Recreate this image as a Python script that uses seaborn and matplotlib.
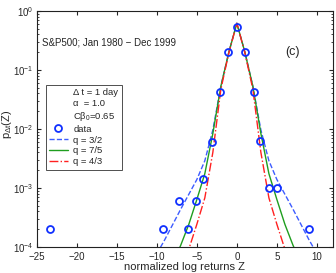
import numpy as np
import seaborn as sns
import matplotlib.pyplot as plt
from matplotlib.lines import Line2D

# data points (normalized log return Z, probability)
data_z = [-23.3, -9.2, -7.17, -6.13, -5.09, -4.17, -3.1, -2.08, -1.05, 0.0,
          1.0, 2.08, 2.9, 3.96, 5.0, 8.96]
data_p = [2e-4, 2e-4, 6e-4, 2e-4, 6e-4, 1.4e-3, 5.9e-3, 0.043, 0.2, 0.53,
          0.2, 0.043, 6.2e-3, 1e-3, 1e-3, 2e-4]

# fitted curves, sampled at integer Z
z_q32 = list(range(-10, 11))
p_q32 = [7.6e-5, 1.32e-4, 2.40e-4, 4.37e-4, 7.76e-4, 1.38e-3, 2.88e-3, 9.55e-3,
         5.25e-2, 0.200, 0.617, 0.200, 5.25e-2, 9.55e-3, 2.88e-3, 1.38e-3,
         7.76e-4, 4.37e-4, 2.40e-4, 1.32e-4, 7.6e-5]

z_q75 = list(range(-8, 9))
p_q75 = [5.2e-5, 1.07e-4, 2.40e-4, 6.31e-4, 1.74e-3, 8.32e-3, 5.25e-2, 0.200,
         0.617, 0.200, 5.25e-2, 8.32e-3, 1.74e-3, 6.31e-4, 2.40e-4, 1.07e-4,
         5.2e-5]

z_q43 = list(range(-7, 8))
p_q43 = [4.0e-5, 9.1e-5, 2.40e-4, 6.76e-4, 3.98e-3, 4.68e-2, 0.195, 0.617,
         0.195, 4.68e-2, 3.98e-3, 6.76e-4, 2.40e-4, 9.1e-5, 4.0e-5]

sns.set_style("ticks")
plt.rcParams["font.family"] = ["Liberation Sans", "DejaVu Sans"]
plt.rcParams["mathtext.fontset"] = "custom"
plt.rcParams["mathtext.rm"] = "Liberation Sans"
plt.rcParams["mathtext.it"] = "Liberation Sans"

fig = plt.figure(figsize=(3.36, 2.73), dpi=100)
ax = fig.add_axes([0.109, 0.096, 0.882, 0.864])

sns.lineplot(x=z_q32, y=p_q32, ax=ax, color="#3d5cff", linestyle="--",
             linewidth=1.0, estimator=None)
sns.lineplot(x=z_q75, y=p_q75, ax=ax, color="#1f9e1f", linestyle="-",
             linewidth=1.0, estimator=None)
sns.lineplot(x=z_q43, y=p_q43, ax=ax, color="#ff2020", linestyle="-.",
             linewidth=1.0, estimator=None)
ax.plot(data_z, data_p, linestyle="none", marker="o", markersize=5,
        markerfacecolor="none", markeredgecolor="#1030ff", markeredgewidth=1.3)

ax.set_yscale("log")
ax.set_xlim(-25, 12)
ax.set_ylim(1e-4, 1)
ax.set_xticks([-25, -20, -15, -10, -5, 0, 5, 10])
ax.set_xticklabels(["\u221225", "\u221220", "\u221215", "\u221210", "\u22125",
                    "0", "5", "10"])
ax.tick_params(which="both", direction="in", top=True, right=True,
               labelsize=7)
ax.tick_params(axis="x", pad=3.5)
ax.tick_params(axis="y", pad=2)
ax.tick_params(which="major", length=3)
ax.tick_params(which="minor", length=1.5)
for s in ax.spines.values():
    s.set_linewidth(0.8)
    s.set_color("#222222")

ax.set_xlabel("normalized log returns Z", fontsize=8, labelpad=0)
ax.set_ylabel(r"p$_{\Delta t}$(Z)", fontsize=8)
ax.yaxis.set_label_coords(-0.078, 0.52)

ax.text(0.019, 0.867, "S&P500; Jan 1980 \u2212 Dec 1999", transform=ax.transAxes,
        fontsize=7, va="center", ha="left")
ax.text(0.865, 0.825, "(c)", transform=ax.transAxes, fontsize=9,
        va="center", ha="center")

blank = Line2D([], [], linestyle="none")
handles = [blank, blank, blank,
           Line2D([], [], linestyle="none", marker="o", markersize=5,
                  markerfacecolor="none", markeredgecolor="#1030ff",
                  markeredgewidth=1.3),
           Line2D([], [], color="#3d5cff", linestyle="--", linewidth=1.0),
           Line2D([], [], color="#1f9e1f", linestyle="-", linewidth=1.0),
           Line2D([], [], color="#ff2020", linestyle="-.", linewidth=1.0)]
labels = ["\u0394 t = 1 day", "\u03b1  = 1.0", r"C$\beta_0$=0.65",
          "data", "q = 3/2", "q = 7/5", "q = 4/3"]
leg = ax.legend(handles, labels, loc="upper left", bbox_to_anchor=(0.03, 0.687),
                fontsize=6.8, frameon=True, fancybox=False, borderpad=0.35,
                labelspacing=0.2, handlelength=2.0, handletextpad=0.6,
                borderaxespad=0)
leg.get_frame().set_edgecolor("#222222")
leg.get_frame().set_linewidth(0.7)

fig.savefig("out.png", dpi=100)
